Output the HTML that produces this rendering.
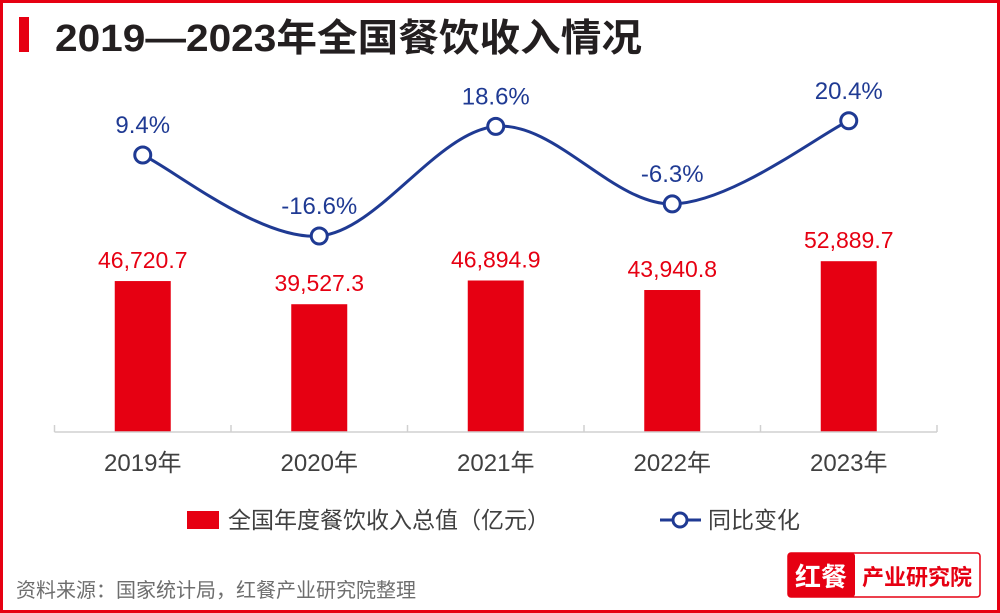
<!DOCTYPE html>
<html><head><meta charset="utf-8"><style>
body{margin:0;width:1000px;height:613px;overflow:hidden;background:#fff;font-family:"Liberation Sans","Noto Sans CJK SC",sans-serif;}
#frame{position:absolute;left:0;top:0;width:994px;height:607px;border:3px solid #e60012;}
</style></head><body>
<div id="frame"></div>
<svg id="chart" width="1000" height="613" style="position:absolute;left:0;top:0">
<rect x="19" y="17" width="10" height="35" fill="#e60012"/>
<text x="55" y="51" font-size="38" font-weight="bold" fill="#231f20" textLength="587" lengthAdjust="spacingAndGlyphs" font-family="Liberation Sans,Noto Sans CJK SC,sans-serif">2019—2023年全国餐饮收入情况</text>
<g id="bars"></g><g id="axis"></g><g id="line"></g>
<rect x="187" y="511" width="32" height="18" fill="#e60012"/>
<text x="228" y="528" font-size="23" fill="#404040" font-family="Liberation Sans,Noto Sans CJK SC,sans-serif">全国年度餐饮收入总值（亿元）</text>
<line x1="660" y1="520" x2="701" y2="520" stroke="#1f3a93" stroke-width="3"/>
<circle cx="680" cy="520" r="7" fill="#fff" stroke="#1f3a93" stroke-width="3"/>
<text x="708" y="528" font-size="23" fill="#404040" font-family="Liberation Sans,Noto Sans CJK SC,sans-serif">同比变化</text>
<text x="16" y="597" font-size="20" fill="#6e6e6e" font-family="Liberation Sans,Noto Sans CJK SC,sans-serif">资料来源：国家统计局，红餐产业研究院整理</text>
<g>
<rect x="788" y="553" width="192" height="44" rx="3" fill="#fff" stroke="#e60012" stroke-width="1.5"/>
<rect x="788" y="553" width="67" height="44" rx="3" fill="#e60012"/>
<text x="821" y="586" text-anchor="middle" font-size="26" font-weight="bold" fill="#fff" font-family="Noto Sans CJK SC,sans-serif">红餐</text>
<text x="917" y="585" text-anchor="middle" font-size="22" font-weight="bold" fill="#e60012" font-family="Noto Sans CJK SC,sans-serif">产业研究院</text>
</g>
</svg>
<script>
const categories=["2019年","2020年","2021年","2022年","2023年"];
const revenue=[46720.7,39527.3,46894.9,43940.8,52889.7];
const revenueLabels=["46,720.7","39,527.3","46,894.9","43,940.8","52,889.7"];
const growth=[9.4,-16.6,18.6,-6.3,20.4];
const growthLabels=["9.4%","-16.6%","18.6%","-6.3%","20.4%"];
const NS="http://www.w3.org/2000/svg";
const x0=54.5,x1=937,band=(x1-x0)/categories.length,base=432;
const xC=i=>x0+band*(i+0.5);
const yBar=v=>431.5-v*0.00322;
const yLine=p=>184.3-p*3.115;
function mk(t,a,p){const e=document.createElementNS(NS,t);for(const k in a)e.setAttribute(k,a[k]);p.appendChild(e);return e;}
const F="Liberation Sans,Noto Sans CJK SC,sans-serif";
const gb=document.getElementById('bars'),ga=document.getElementById('axis'),gl=document.getElementById('line');
revenue.forEach((v,i)=>{
 const r=mk('rect',{x:xC(i)-28,y:yBar(v),width:56,height:base-yBar(v),fill:'#e60012'},gb);
 
 
 const t=mk('text',{x:xC(i),y:yBar(v)-13,'text-anchor':'middle','font-size':23,fill:'#e60012','font-family':F},gb);
 t.textContent=revenueLabels[i];
 
 
 const c=mk('text',{x:xC(i),y:471,'text-anchor':'middle','font-size':24,fill:'#404040','font-family':F},ga);
 c.textContent=categories[i];
 
 
});
const ax=mk('line',{x1:x0,y1:base,x2:x1,y2:base,stroke:'#d0d0d0','stroke-width':1.5},ga);


for(let i=0;i<=categories.length;i++){
 const tk=mk('line',{x1:x0+band*i,y1:base,x2:x0+band*i,y2:base-7,stroke:'#d0d0d0','stroke-width':1.5},ga);
 
 
}
const pts=growth.map((p,i)=>[xC(i),yLine(p)]);
let d=`M${pts[0][0]},${pts[0][1]}`;
for(let i=0;i<pts.length-1;i++){
 const p0=pts[Math.max(0,i-1)],p1=pts[i],p2=pts[i+1],p3=pts[Math.min(pts.length-1,i+2)];
 const k=1/3;
 const c1=[p1[0]+(p2[0]-p0[0])*k/2,p1[1]+(p2[1]-p0[1])*k/2];
 const c2=[p2[0]-(p3[0]-p1[0])*k/2,p2[1]-(p3[1]-p1[1])*k/2];
 d+=` C${c1[0]},${c1[1]} ${c2[0]},${c2[1]} ${p2[0]},${p2[1]}`;
}
const path=mk('path',{d:d,fill:'none',stroke:'#1f3a93','stroke-width':3},gl);


pts.forEach((p,i)=>{
 const c=mk('circle',{cx:p[0],cy:p[1],r:8,fill:'#fff',stroke:'#1f3a93','stroke-width':3},gl);
 
 
 const t=mk('text',{x:p[0],y:p[1]-22,'text-anchor':'middle','font-size':24,fill:'#1f3a93','font-family':F},gl);
 t.textContent=growthLabels[i];
 
 
});
</script>
</body></html>
